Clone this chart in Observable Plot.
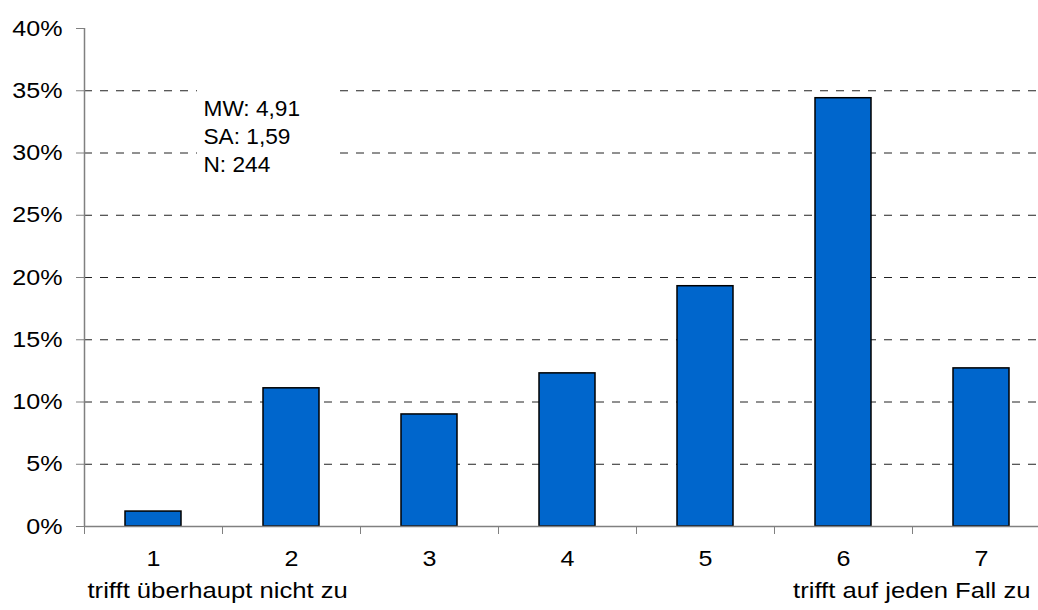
<!DOCTYPE html>
<html>
<head>
<meta charset="utf-8">
<script src="https://cdn.jsdelivr.net/npm/d3@7"></script>
<script src="https://cdn.jsdelivr.net/npm/@observablehq/plot@0.6"></script>
<style>
  html, body { margin: 0; padding: 0; background: #fff; }
  #chart svg { display: block; }
</style>
</head>
<body>
<div id="chart"></div>
<script>
// ---- data ----
const categories = ["1", "2", "3", "4", "5", "6", "7"];
const percentages = [1.2, 11.1, 9.0, 12.3, 19.3, 34.4, 12.7];
const yTicks = [0, 5, 10, 15, 20, 25, 30, 35, 40];
const gridTicks = [5, 10, 15, 20, 25, 30, 35];
const leftLabel = "trifft überhaupt nicht zu";
const rightLabel = "trifft auf jeden Fall zu";
const annotationLines = ["MW: 4,91", "SA: 1,59", "N: 244"];

const data = categories.map((c, i) => ({category: c, value: percentages[i]}));

const FONT = "'Liberation Sans', Arial, Helvetica, sans-serif";
const FS = 22;

// white box behind annotation (decoration)
function annotationBox(index, scales, values, dimensions) {
  const r = d3.create("svg:rect")
    .attr("x", dimensions.marginLeft + 113)
    .attr("y", dimensions.marginTop + 57)
    .attr("width", 139)
    .attr("height", 86)
    .attr("fill", "white");
  return r.node();
}

const chart = Plot.plot({
  width: 1038,
  height: 610,
  marginLeft: 84,
  marginRight: 0,
  marginTop: 28,
  marginBottom: 84,
  style: {fontFamily: FONT, fontSize: FS + "px", background: "white", color: "black"},
  x: {domain: categories, range: [84, 1050], padding: 0, label: null},
  y: {domain: [0, 40], range: [526, 28], label: null},
  marks: [
    Plot.ruleY(gridTicks, {stroke: "#222", strokeWidth: 1, strokeDasharray: "8,8"}),
    annotationBox,
    Plot.barY(data, {x: "category", y: "value", fill: "#0066CC", stroke: "#000", strokeWidth: 1.5, insetLeft: 41, insetRight: 41}),
    Plot.ruleY([0], {stroke: "#808080", strokeWidth: 1.5}),
    Plot.ruleX([categories[0]], {dx: -69, stroke: "#808080", strokeWidth: 1.5}),
    Plot.axisY({ticks: yTicks, tickFormat: d => d + "%", tickSize: 8, tickPadding: 14, stroke: "#808080", fill: "black", fontSize: FS, label: null}),
    Plot.axisX({tickSize: 8, dx: -69, tickFormat: () => "", stroke: "#808080", label: null}),
    Plot.text(categories, {x: d => d, frameAnchor: "bottom", dy: 39, fontSize: FS, fill: "black"}),
    Plot.text([leftLabel], {frameAnchor: "bottom-left", textAnchor: "start", dx: 3, dy: 71, fontSize: FS, fill: "black"}),
    Plot.text([rightLabel], {frameAnchor: "bottom-right", textAnchor: "end", dx: -8, dy: 71, fontSize: FS, fill: "black"}),
    ...annotationLines.map((line, i) => Plot.text([line], {frameAnchor: "top-left", textAnchor: "start", dx: 119, dy: 71.7 + i * 28.3, fontSize: FS, fill: "black"}))
  ]
});

document.getElementById("chart").appendChild(chart);

// horizontal stretch of glyphs to match the reference's wide lettering
chart.querySelectorAll("text").forEach(t => {
  const s = t.textContent.trim();
  if (!s) return;
  let factor = 1.14;
  if (annotationLines.includes(s)) factor = 1.03;
  else if (s === leftLabel || s === rightLabel) factor = 1.165;
  const len = t.getComputedTextLength();
  if (len > 0) {
    t.setAttribute("textLength", (len * factor).toFixed(2));
    t.setAttribute("lengthAdjust", "spacingAndGlyphs");
  }
});
</script>
</body>
</html>
